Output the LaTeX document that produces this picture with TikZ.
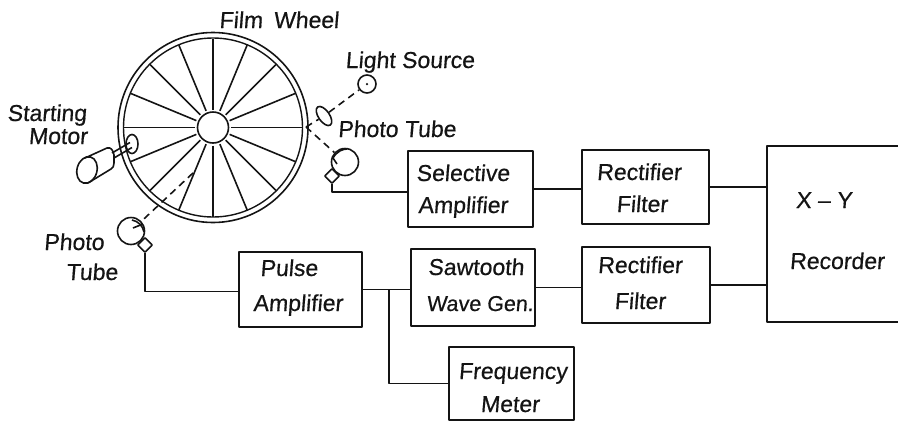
\documentclass[tikz,border=0pt]{standalone}
\usepackage{fontspec}
\setmainfont[FakeSlant=0.08,FakeBold=0.5]{Liberation Sans}
\usetikzlibrary{shapes.geometric,calc}
\definecolor{ink}{gray}{0.08}
\tikzset{
  x=1pt,y=-1pt,
  every path/.style={line width=1.6pt,draw=ink,line join=round},
  blk/.style={draw=ink,line width=1.6pt,rectangle,inner sep=0pt,minimum width=#1},
  lbl/.style={draw=none,anchor=base,inner sep=0pt,text=ink,font=\fontsize{23}{25}\selectfont},
  wire/.style={draw=ink,line width=1.6pt},
  beam/.style={draw=ink,line width=1.6pt,dash pattern=on 7pt off 5pt},
  tube/.style={circle,draw=ink,line width=1.6pt,minimum size=27pt,inner sep=0pt},
  socket/.style={diamond,draw=ink,line width=1.6pt,minimum size=15pt,inner sep=0pt},
}
\begin{document}
\begin{tikzpicture}
\useasboundingbox[draw=none] (0,0) rectangle (898,421);
% wheel
\node[circle,draw=ink,line width=1.6pt,minimum size=190pt,inner sep=0pt] (rimo) at (213,127.5) {};
\node[circle,draw=ink,line width=1.4pt,minimum size=179pt,inner sep=0pt] (rimi) at (213,127.5) {};
\node[circle,draw=ink,line width=1.6pt,minimum size=31pt,inner sep=0pt] (hub) at (213,127.5) {};
\foreach \a in {0,22.5,...,337.5}{
  \draw[wire] ($(hub)+({18*cos(\a)},{18*sin(\a)})$) -- ($(hub)+({89*cos(\a)},{89*sin(\a)})$);
}
% blocks
\node[blk=125pt,minimum height=76pt] (sel) at (470.5,189) {};
\node[blk=127pt,minimum height=74pt] (rf1) at (645.5,187) {};
\node[blk=128pt,minimum height=76pt] (rf2) at (646,285) {};
\node[blk=124pt,minimum height=77pt] (saw) at (473,287.5) {};
\node[blk=123pt,minimum height=75pt] (pul) at (300.5,289.5) {};
\node[blk=125pt,minimum height=73pt] (frq) at (511.5,383.5) {};
\node[draw=none,minimum width=131pt,minimum height=174pt,inner sep=0pt] (rec) at (833.5,234) {};
\draw[wire] (rec.north east) -- (rec.north west) -- (rec.south west) -- (rec.south east);
% source, lens, tubes
\node[circle,draw=ink,line width=1.6pt,minimum size=18pt,inner sep=0pt] (lamp) at (367,84) {};
\node[circle,fill=ink,draw=none,minimum size=2.5pt,inner sep=0pt] (lampdot) at (367,84) {};
\node[ellipse,draw=ink,line width=1.6pt,minimum width=22pt,minimum height=11pt,inner sep=0pt,rotate=-55] (lens) at (324,116) {};
\coordinate (rimA) at (306,127);
\node[tube] (pt1) at (345,162) {};
\node[socket] (pd1) at (332,176) {};
\node[tube] (pt2) at (131,231) {};
\node[socket] (pd2) at (145,245) {};
\draw[wire] (333,158) .. controls (337,151) and (343,149) .. (347,149);
\draw[wire] (333,158) -- (337,164);
\draw[wire] (132,220) .. controls (138,221) and (143,226) .. (144,232);
\draw[wire] (133,228) -- (143,224);
% beams
\draw[beam] (rimA) -- (lens);
\draw[beam] (lens) -- (lamp);
\draw[beam] (rimA) -- (pt1);
\coordinate (beamin) at (193,173);
\draw[beam] (beamin) -- (pt2);
% motor
\node[ellipse,draw=ink,line width=1.6pt,minimum width=20pt,minimum height=27pt,inner sep=0pt,rotate=-15] (mback) at (87,170) {};
\draw[wire] (85,158) -- (107,148) .. controls (111,147) and (113,150) .. (114,155) -- (114,163) .. controls (114,166) and (113,168) .. (111,169) -- (88,183);
\node[ellipse,draw=ink,line width=1.6pt,minimum width=12pt,minimum height=19pt,inner sep=0pt] (hubm) at (132,144) {};
\draw[wire] (112,153) -- (130,142.5);
\draw[wire] (114,158) -- (132,147.5);
% connectors
\coordinate (w1) at (408,192);
\draw[wire] (pd1.south) |- (w1);
\coordinate (w2) at (239,291.5);
\draw[wire] (pd2.south) |- (w2);
\draw[wire] (sel.east) -- (sel.east -| rf1.west);
\draw[wire] (rf1.east) -- (rf1.east -| rec.west);
\draw[wire] (pul.east) -- (pul.east -| saw.west);
\draw[wire] (saw.east) -- (saw.east -| rf2.west);
\draw[wire] (rf2.east) -- (rf2.east -| rec.west);
\coordinate (tap) at (389,289.5);
\draw[wire] (tap) |- (frq.west);
% text
\node[lbl] (t1) at (279,28) {Film\hspace{0.2em} Wheel};
\node[lbl] (t2) at (410,68) {Light Source};
\node[lbl] (t3) at (397,137) {Photo Tube};
\node[lbl] (t4) at (47,121) {Starting};
\node[lbl] (t5) at (58,144) {Motor};
\node[lbl] (t6) at (74,250) {Photo};
\node[lbl] (t7) at (92,280) {Tube};
\node[lbl] (t8) at (463,181) {Selective};
\node[lbl] (t9) at (463,213) {Amplifier};
\node[lbl] (t10) at (639,180) {Rectifier};
\node[lbl] (t11) at (642,212) {Filter};
\node[lbl] (t12) at (640,273) {Rectifier};
\node[lbl] (t13) at (640,309) {Filter};
\node[lbl] (t14) at (824,208) {X -- Y};
\node[lbl] (t15) at (837,269) {Recorder};
\node[lbl] (t16) at (289,276) {Pulse};
\node[lbl] (t17) at (298,311) {Amplifier};
\node[lbl] (t18) at (476,275) {Sawtooth};
\node[lbl,font=\fontsize{21.5}{24}\selectfont] (t19) at (480,311) {Wave Gen.};
\node[lbl] (t20) at (513,379) {Frequency};
\node[lbl] (t21) at (510,412) {Meter};
\end{tikzpicture}
\end{document}
